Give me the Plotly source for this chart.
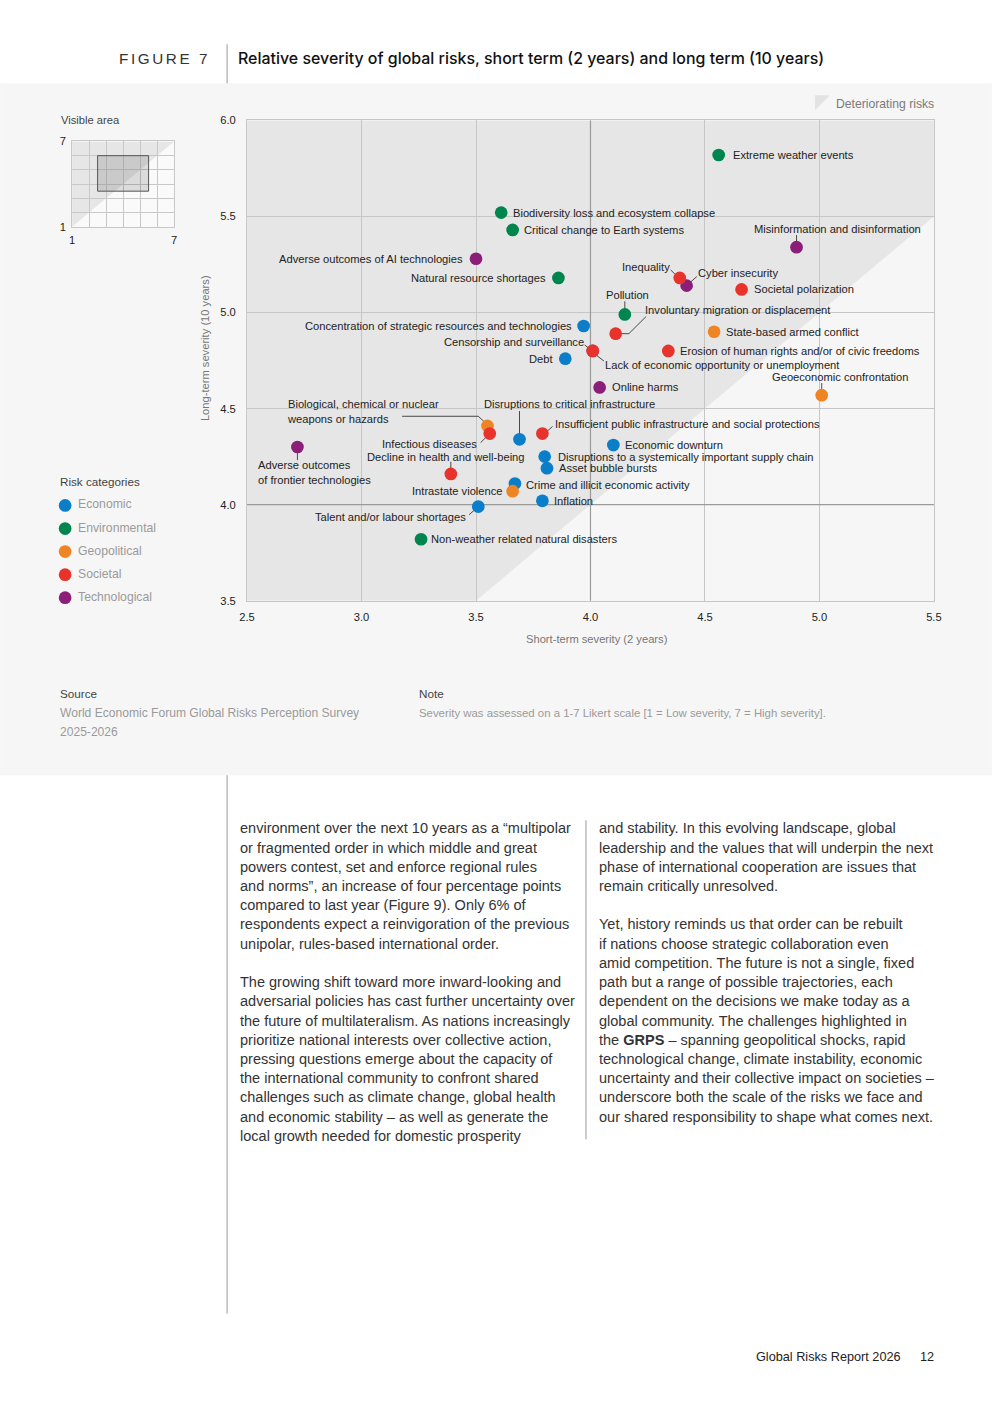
import plotly.graph_objects as go

W, H = 992, 1403          # page / figure size
OFF = 8                   # capture offset observed in the renderer
SX, SY = (W + 2 * OFF) / W, (H + 2 * OFF) / H   # capture scale compensation
FW, FH = W, H
FONT = "Liberation Sans, Arial, sans-serif"

# ---------------- data ----------------
categories = ["Economic", "Environmental", "Geopolitical", "Societal", "Technological"]
category_colors = ["#0a7ec8", "#00854f", "#ef8425", "#e8332c", "#8b1e79"]

risks = [
    "Extreme weather events",
    "Biodiversity loss and ecosystem collapse",
    "Critical change to Earth systems",
    "Adverse outcomes of AI technologies",
    "Natural resource shortages",
    "Misinformation and disinformation",
    "Inequality",
    "Cyber insecurity",
    "Societal polarization",
    "Pollution",
    "Involuntary migration or displacement",
    "Concentration of strategic resources and technologies",
    "Censorship and surveillance",
    "Lack of economic opportunity or unemployment",
    "Debt",
    "State-based armed conflict",
    "Erosion of human rights and/or of civic freedoms",
    "Online harms",
    "Geoeconomic confrontation",
    "Biological, chemical or nuclear weapons or hazards",
    "Infectious diseases",
    "Disruptions to critical infrastructure",
    "Insufficient public infrastructure and social protections",
    "Adverse outcomes of frontier technologies",
    "Decline in health and well-being",
    "Disruptions to a systemically important supply chain",
    "Asset bubble bursts",
    "Economic downturn",
    "Crime and illicit economic activity",
    "Intrastate violence",
    "Inflation",
    "Talent and/or labour shortages",
    "Non-weather related natural disasters",
]
risk_category = [
    "Environmental", "Environmental", "Environmental", "Technological", "Environmental",
    "Technological", "Societal", "Technological", "Societal", "Environmental",
    "Societal", "Economic", "Technological", "Societal", "Economic",
    "Geopolitical", "Societal", "Technological", "Geopolitical", "Geopolitical",
    "Societal", "Economic", "Societal", "Technological", "Societal",
    "Economic", "Economic", "Economic", "Economic", "Geopolitical",
    "Economic", "Economic", "Environmental",
]
short_term = [
    4.56, 3.61, 3.66, 3.50, 3.86,
    4.90, 4.39, 4.42, 4.66, 4.15,
    4.11, 3.97, 4.01, 4.01, 3.89,
    4.54, 4.34, 4.04, 5.01, 3.55,
    3.56, 3.69, 3.79, 2.72, 3.39,
    3.80, 3.81, 4.10, 3.67, 3.66,
    3.79, 3.51, 3.26,
]
long_term = [
    5.82, 5.52, 5.43, 5.28, 5.18,
    5.34, 5.18, 5.14, 5.12, 4.99,
    4.89, 4.93, 4.80, 4.80, 4.76,
    4.90, 4.80, 4.61, 4.57, 4.41,
    4.37, 4.34, 4.37, 4.30, 4.16,
    4.25, 4.19, 4.31, 4.11, 4.07,
    4.02, 3.99, 3.82,
]
x_ticks = [2.5, 3.0, 3.5, 4.0, 4.5, 5.0, 5.5]
y_ticks = [3.5, 4.0, 4.5, 5.0, 5.5, 6.0]
scale_min, scale_max = 1, 7

# ---------------- label layout (pixel offsets from each dot) ----------------
label_layout = {
    "Extreme weather events": ("l", 14, 0, None),
    "Biodiversity loss and ecosystem collapse": ("l", 12, 0, None),
    "Critical change to Earth systems": ("l", 11, 0, None),
    "Adverse outcomes of AI technologies": ("r", -13, 0, None),
    "Natural resource shortages": ("r", -12, 0, None),
    "Misinformation and disinformation": ("c", 40, -18, [(0, -3), (0, -12)]),
    "Inequality": ("r", -10, -11, [(-9, -8), (-2, -1)]),
    "Cyber insecurity": ("l", 11, -12, [(10, -9), (1, -1)]),
    "Societal polarization": ("l", 12, 0, None),
    "Pollution": ("c", 3, -19, [(0, -3), (0, -13)]),
    "Involuntary migration or displacement": ("l", 29, -23, [(0, 0), (13, 0), (30, -17)]),
    "Concentration of strategic resources and technologies": ("r", -11, 0, None),
    "Censorship and surveillance": ("r", -9, -8.5, [(-8, -6), (-2, -1)]),
    "Lack of economic opportunity or unemployment": ("l", 12, 14, [(2, 3), (11, 10)]),
    "Debt": ("r", -12, 0, None),
    "State-based armed conflict": ("l", 12, 0, None),
    "Erosion of human rights and/or of civic freedoms": ("l", 12, 0, None),
    "Online harms": ("l", 12, 0, None),
    "Geoeconomic confrontation": ("c", 18, -18, [(0, -3), (0, -12)]),
    "Biological, chemical or nuclear weapons or hazards": ("l", -197, -14, [(-84, -9.5), (-9, -9.5), (-2, -3)]),
    "Infectious diseases": ("r", -13, 10, [(-9, 9), (-1, 1)]),
    "Disruptions to critical infrastructure": ("l", -35, -35, [(0, -28), (0, -4)]),
    "Insufficient public infrastructure and social protections": ("l", 12, -9, [(1, 1), (10, -7)]),
    "Adverse outcomes of frontier technologies": ("l", -39, 25, [(0, 3), (0, 13)]),
    "Decline in health and well-being": ("c", -5, -17, [(0, -12), (0, -4)]),
    "Disruptions to a systemically important supply chain": ("l", 13, 0, None),
    "Asset bubble bursts": ("l", 12, 0, None),
    "Economic downturn": ("l", 11, 0, None),
    "Crime and illicit economic activity": ("l", 11, 1, None),
    "Intrastate violence": ("r", -10, 0, None),
    "Inflation": ("l", 11, 0, None),
    "Talent and/or labour shortages": ("r", -12, 10, [(-9, 8), (-1, 1)]),
    "Non-weather related natural disasters": ("l", 10, 0, None),
}
label_breaks = {
    "Biological, chemical or nuclear weapons or hazards": "Biological, chemical or nuclear<br>weapons or hazards",
    "Adverse outcomes of frontier technologies": "Adverse outcomes<br>of frontier technologies",
}

body_left = [
    "environment over the next 10 years as a “multipolar",
    "or fragmented order in which middle and great",
    "powers contest, set and enforce regional rules",
    "and norms”, an increase of four percentage points",
    "compared to last year (Figure 9). Only 6% of",
    "respondents expect a reinvigoration of the previous",
    "unipolar, rules-based international order.",
    "",
    "The growing shift toward more inward-looking and",
    "adversarial policies has cast further uncertainty over",
    "the future of multilateralism. As nations increasingly",
    "prioritize national interests over collective action,",
    "pressing questions emerge about the capacity of",
    "the international community to confront shared",
    "challenges such as climate change, global health",
    "and economic stability – as well as generate the",
    "local growth needed for domestic prosperity",
]
body_right = [
    "and stability. In this evolving landscape, global",
    "leadership and the values that will underpin the next",
    "phase of international cooperation are issues that",
    "remain critically unresolved.",
    "",
    "Yet, history reminds us that order can be rebuilt",
    "if nations choose strategic collaboration even",
    "amid competition. The future is not a single, fixed",
    "path but a range of possible trajectories, each",
    "dependent on the decisions we make today as a",
    "global community. The challenges highlighted in",
    "the <b>GRPS</b> – spanning geopolitical shocks, rapid",
    "technological change, climate instability, economic",
    "uncertainty and their collective impact on societies –",
    "underscore both the scale of the risks we face and",
    "our shared responsibility to shape what comes next.",
]


# ---------------- helpers (page pixels -> paper) ----------------
def px(x):
    return (x * SX - OFF) / FW


def py(y):
    return 1 - (y * SY - OFF) / FH


def fs(size):
    return size * SX


def ptext(x, y, s, size=11, color="#222", xanchor="left", yanchor="middle", family=FONT, weight=None, **kw):
    f = dict(family=family, size=fs(size), color=color)
    if weight:
        f["weight"] = weight
    return dict(x=px(x), y=py(y), xref="paper", yref="paper", text=s, showarrow=False,
                xanchor=xanchor, yanchor=yanchor, font=f, **kw)


fig = go.Figure()

cat_color = dict(zip(categories, category_colors))
draw_order = ["Economic", "Environmental", "Geopolitical", "Technological", "Societal"]
for cat in draw_order:
    idx = [i for i, c in enumerate(risk_category) if c == cat]
    fig.add_trace(go.Scatter(
        x=[short_term[i] for i in idx], y=[long_term[i] for i in idx],
        text=[risks[i] for i in idx], mode="markers", name=cat,
        marker=dict(size=fs(12.5), color=cat_color[cat], line=dict(width=0)),
        hovertemplate="%{text}<br>Short term: %{x}<br>Long term: %{y}<extra></extra>",
        showlegend=False, xaxis="x", yaxis="y", cliponaxis=False,
    ))

# legend drawn on its own small axis (1 unit = 1 page px)
leg_y = [16 + 23 * i for i in range(len(categories))]
fig.add_trace(go.Scatter(
    x=[10] * len(categories), y=leg_y, mode="markers",
    marker=dict(size=fs(12.5), color=category_colors, line=dict(width=0)),
    hoverinfo="skip", showlegend=False, xaxis="x3", yaxis="y3", cliponaxis=False,
))
fig.add_trace(go.Scatter(
    x=[23] * len(categories), y=leg_y, text=categories, mode="text", textposition="middle right",
    textfont=dict(family=FONT, size=fs(12), color="#9a9a9a"),
    hoverinfo="skip", showlegend=False, xaxis="x3", yaxis="y3", cliponaxis=False,
))

xr = [x_ticks[0], x_ticks[-1]]
yr = [y_ticks[0], y_ticks[-1]]

shapes = []
shapes.append(dict(type="rect", xref="paper", yref="paper", x0=px(0), x1=px(W), y0=py(775), y1=py(85),
                   fillcolor="#f6f6f6", line=dict(width=0), layer="below"))
path = (f"M {xr[0]},{yr[0]} L {yr[0]},{yr[0]} L {xr[1]},{xr[1]} L {xr[1]},{yr[1]} "
        f"L {xr[0]},{yr[1]} Z")
shapes.append(dict(type="path", xref="x", yref="y", path=path, fillcolor="#e6e6e6",
                   line=dict(width=0), layer="below"))
shapes.append(dict(type="line", xref="x", yref="y", x0=4.0, x1=4.0, y0=yr[0], y1=yr[1],
                   line=dict(color="#9a9a9a", width=1.2), layer="between"))
shapes.append(dict(type="line", xref="x", yref="y", x0=xr[0], x1=xr[1], y0=4.0, y1=4.0,
                   line=dict(color="#9a9a9a", width=1.2), layer="between"))

# inset
shapes.append(dict(type="rect", xref="x2", yref="y2", x0=scale_min, x1=scale_max, y0=scale_min,
                   y1=scale_max, fillcolor="#fafafa", line=dict(width=0), layer="below"))
shapes.append(dict(type="path", xref="x2", yref="y2",
                   path=f"M {scale_min},{scale_min} L {scale_min},{scale_max} L {scale_max},{scale_max} Z",
                   fillcolor="#e6e6e6", line=dict(width=0), layer="below"))
shapes.append(dict(type="rect", xref="x2", yref="y2", x0=xr[0], x1=xr[1], y0=yr[0], y1=yr[1],
                   fillcolor="rgba(0,0,0,0.12)", line=dict(color="#555", width=1), layer="above"))

shapes.append(dict(type="path", xref="paper", yref="paper",
                   path=f"M {px(815)},{py(97)} L {px(830)},{py(97)} L {px(815)},{py(112)} Z",
                   fillcolor="#e3e3e3", line=dict(width=0)))

shapes.append(dict(type="line", xref="paper", yref="paper", x0=px(227), x1=px(227), y0=py(46), y1=py(85),
                   line=dict(color="#9a9a9a", width=1)))
shapes.append(dict(type="line", xref="paper", yref="paper", x0=px(227), x1=px(227), y0=py(775), y1=py(1312),
                   line=dict(color="#9a9a9a", width=1)))
shapes.append(dict(type="line", xref="paper", yref="paper", x0=px(586), x1=px(586), y0=py(820), y1=py(1138),
                   line=dict(color="#9a9a9a", width=1)))

annotations = []
for i, name in enumerate(risks):
    anchor, dx, dy, leader = label_layout[name]
    xa = {"l": "left", "r": "right", "c": "center"}[anchor]
    adj = {"l": -2, "r": 2, "c": 0}[anchor]
    annotations.append(dict(
        x=short_term[i], y=long_term[i], xref="x", yref="y", text=label_breaks.get(name, name),
        showarrow=False, xanchor=xa, yanchor="middle", xshift=(dx + adj) * SX, yshift=-dy * SY,
        align="left", font=dict(family=FONT, size=fs(11), color="#222")))
    if leader:
        for p0, p1 in zip(leader[:-1], leader[1:]):
            shapes.append(dict(type="line", xref="x", yref="y", xsizemode="pixel", ysizemode="pixel",
                               xanchor=short_term[i], yanchor=long_term[i],
                               x0=p0[0] * SX, y0=-p0[1] * SY, x1=p1[0] * SX, y1=-p1[1] * SY,
                               line=dict(color="#222", width=0.8), layer="between"))

annotations.append(ptext(117, 60, '<span style="letter-spacing:2.6px">FIGURE 7</span>', size=15, color="#333"))
annotations.append(ptext(236, 60, "Relative severity of global risks, short term (2 years) and long term (10 years)",
                         size=15.7, color="#111", family="Inter, Liberation Sans, sans-serif", weight=500))
annotations.append(ptext(834, 106, "Deteriorating risks", size=12, color="#7a7a7a"))
annotations.append(ptext(59, 122, "Visible area", size=11, color="#444"))
annotations.append(ptext(58, 482, "Risk categories", size=11.5, color="#444"))
annotations.append(ptext(205, 349, "Long-term severity (10 years)", size=11, color="#777",
                         xanchor="center", textangle=-90))
annotations.append(ptext(597, 639, "Short-term severity (2 years)", size=11, color="#777", xanchor="center"))
annotations.append(ptext(58, 694, "Source", size=11.5, color="#444"))
annotations.append(ptext(58, 713, "World Economic Forum Global Risks Perception Survey", size=11.9, color="#9a9a9a"))
annotations.append(ptext(58, 732, "2025-2026", size=11.9, color="#9a9a9a"))
annotations.append(ptext(417, 694, "Note", size=11.5, color="#444"))
annotations.append(ptext(417, 713, "Severity was assessed on a 1-7 Likert scale [1 = Low severity, 7 = High severity].",
                         size=11.2, color="#9a9a9a"))
annotations.append(ptext(754, 1355, "Global Risks Report 2026", size=12.5, color="#222"))
annotations.append(ptext(918, 1355, "12", size=12.5, color="#222"))

step = 19.17
for k, line in enumerate(body_left):
    if line:
        annotations.append(ptext(238, 828 + k * step, line, size=14.3, color="#333"))
for k, line in enumerate(body_right):
    if line:
        annotations.append(ptext(597, 828 + k * step, line, size=14.3, color="#333"))

tickfont = dict(family=FONT, size=fs(11), color="#222")
fig.update_layout(
    width=FW, height=FH, autosize=False,
    margin=dict(l=0, r=0, t=0, b=0),
    paper_bgcolor="#ffffff", plot_bgcolor="rgba(0,0,0,0)",
    font=dict(family=FONT, size=fs(11), color="#222"),
    showlegend=False,
    xaxis=dict(domain=[px(247), px(934)], range=xr, tickvals=x_ticks, tickformat=".1f",
               showgrid=True, gridcolor="#c6c6c6", gridwidth=1, zeroline=False,
               showline=True, mirror=True, linecolor="#c6c6c6", linewidth=1,
               ticks="outside", ticklen=6 * SY, tickcolor="rgba(0,0,0,0)",
               tickfont=tickfont, anchor="y", fixedrange=True),
    yaxis=dict(domain=[py(601), py(122)], range=yr, tickvals=y_ticks, tickformat=".1f",
               showgrid=True, gridcolor="#c6c6c6", gridwidth=1, zeroline=False,
               showline=True, mirror=True, linecolor="#c6c6c6", linewidth=1,
               ticks="outside", ticklen=8 * SX, tickcolor="rgba(0,0,0,0)",
               tickfont=tickfont, anchor="x", fixedrange=True),
    xaxis2=dict(domain=[px(72), px(174)], range=[scale_min, scale_max], tickvals=[scale_min, scale_max],
                showgrid=False, zeroline=False, showline=True, mirror=True, linecolor="#c8c8c8",
                minor=dict(tickvals=list(range(scale_min + 1, scale_max)), showgrid=True, gridcolor="#c8c8c8"),
                ticks="outside", ticklen=3, tickcolor="rgba(0,0,0,0)",
                tickfont=tickfont, anchor="y2", fixedrange=True),
    yaxis2=dict(domain=[py(228), py(143)], range=[scale_min, scale_max], tickvals=[scale_min, scale_max],
                showgrid=False, zeroline=False, showline=True, mirror=True, linecolor="#c8c8c8",
                minor=dict(tickvals=list(range(scale_min + 1, scale_max)), showgrid=True, gridcolor="#c8c8c8"),
                ticks="outside", ticklen=3, tickcolor="rgba(0,0,0,0)",
                tickfont=tickfont, anchor="x2", fixedrange=True),
    xaxis3=dict(domain=[px(55), px(250)], range=[0, 195], visible=False, anchor="y3", fixedrange=True),
    yaxis3=dict(domain=[py(610), py(490)], range=[120, 0], visible=False, anchor="x3", fixedrange=True),
    shapes=shapes,
    annotations=annotations,
)

fig.write_html("out.html", config={"displayModeBar": False},
               post_script="document.body.style.margin='0';")
